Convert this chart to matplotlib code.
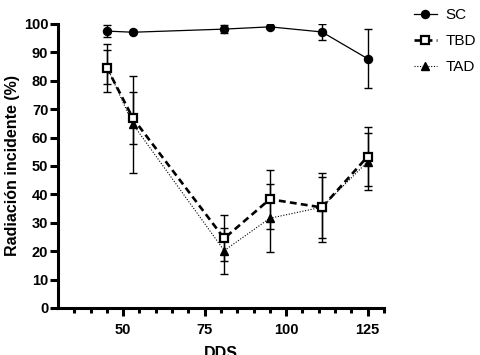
import numpy as np
import matplotlib.pyplot as plt
from matplotlib.ticker import MultipleLocator, FixedLocator

plt.rcParams['font.family'] = ['Liberation Sans', 'DejaVu Sans']

# Data
dds = [45, 53, 81, 95, 111, 125]
sc = [97.5, 97.1, 98.2, 99.0, 97.2, 87.8]
sc_err = [2.0, 0.4, 1.5, 0.4, 2.7, 10.5]
tbd = [84.6, 66.8, 24.5, 38.3, 35.4, 53.3]
tbd_err = [8.4, 9.1, 8.1, 10.4, 12.1, 10.5]
tad = [85.0, 64.7, 20.2, 31.6, 35.5, 51.5]
tad_err = [6.0, 17.1, 8.1, 12.0, 10.7, 10.0]

fig = plt.figure(figsize=(4.81, 3.55), dpi=100)
ax = fig.add_axes([0.1206, 0.1324, 0.6774, 0.8]);

# error bars first, then the lines+markers (used for legend)
eb = dict(fmt='none', ecolor='black', elinewidth=1.0, capsize=2.6, capthick=1.0)
ax.errorbar(dds, sc, yerr=sc_err, zorder=2, **eb)
ax.errorbar(dds, tbd, yerr=tbd_err, zorder=2, **eb)
ax.errorbar(dds, tad, yerr=tad_err, zorder=2, **eb)

ax.plot(dds, sc, color='black', lw=0.9, marker='o', ms=5.8, label='SC', zorder=3)
ax.plot(dds, tbd, color='black', lw=1.9, ls=(0, (2.6, 1.6)), marker='s', ms=6,
        mfc='white', mec='black', mew=1.6, label='TBD', zorder=4)
ax.plot(dds, tad, color='black', lw=0.8, ls=(0, (1, 1.5)), marker='^', ms=6,
        label='TAD', zorder=3)

ax.set_xlim(30, 130); ax.set_ylim(0, 100)
ax.xaxis.set_major_locator(FixedLocator([50, 75, 100, 125]))
ax.xaxis.set_minor_locator(FixedLocator([v for v in range(35, 131, 5) if v not in (50, 75, 100, 125)]))
ax.yaxis.set_major_locator(MultipleLocator(10))

for s in ['top', 'right']:
    ax.spines[s].set_visible(False)
for s in ['left', 'bottom']:
    ax.spines[s].set_linewidth(2.2)
ax.tick_params(axis='both', which='major', width=2.2, length=5.5, labelsize=10.5, pad=1.5)
ax.tick_params(axis='x', which='major', pad=5)
ax.tick_params(axis='x', which='minor', width=2.2, length=3.5)
for lab in ax.get_xticklabels() + ax.get_yticklabels():
    lab.set_fontweight('bold')

ax.set_ylabel('Radiación incidente (%)', fontsize=11.5, fontweight='bold', labelpad=3)
ax.set_xlabel('DDS', fontsize=11.5, fontweight='bold', labelpad=7)

leg = ax.legend(loc='upper left', bbox_to_anchor=(414/481, 1 - 8/355),
                bbox_transform=fig.transFigure, frameon=False, borderpad=0,
                borderaxespad=0, fontsize=11, handlelength=1.5,
                labelspacing=0.8, handletextpad=0.55)

fig.savefig('out.png', dpi=100)
